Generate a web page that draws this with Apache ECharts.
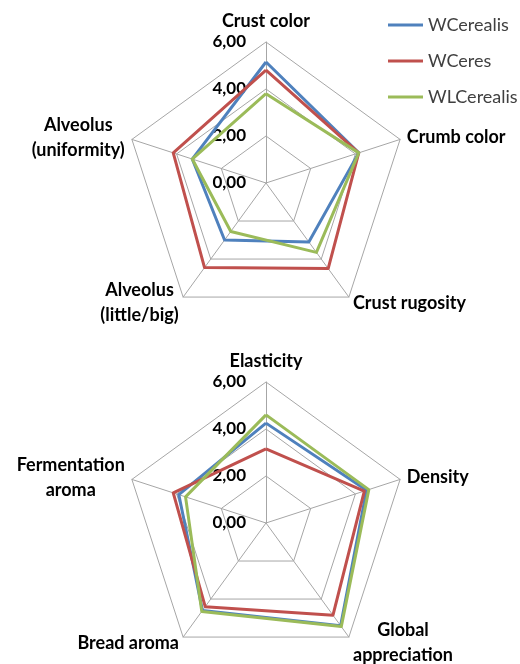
<!DOCTYPE html>
<html>
<head>
<meta charset="utf-8">
<script src="https://cdn.jsdelivr.net/npm/echarts@6/dist/echarts.min.js"></script>
<style>
  html, body { margin: 0; padding: 0; background: #fff; }
  #chart { width: 520px; height: 664px; }
</style>
</head>
<body>
<div id="chart"></div>
<script>
// categories listed clockwise starting from the top vertex
var topCategories = ['Crust color', 'Crumb color', 'Crust rugosity', 'Alveolus\n(little/big)', 'Alveolus\n(uniformity)'];
var bottomCategories = ['Elasticity', 'Density', 'Global\nappreciation', 'Bread aroma', 'Fermentation\naroma'];

var seriesNames = ['WCerealis', 'WCeres', 'WLCerealis'];

var wCerealisTop = [5.15, 4.15, 3.1, 3.0, 3.3];
var wCeresTop = [4.8, 4.15, 4.5, 4.45, 4.15];
var wlCerealisTop = [3.8, 4.15, 3.65, 2.55, 3.3];

var wCerealisBottom = [4.25, 4.5, 5.4, 4.6, 3.9];
var wCeresBottom = [3.15, 4.4, 4.85, 4.4, 4.15];
var wlCerealisBottom = [4.6, 4.6, 5.45, 4.65, 3.6];

var axisMax = 6;
var axisInterval = 2;

var colors = ['#4F81BD', '#C0504D', '#9BBB59'];
var FONT = 'Lato';
var NAME_SIZE = 18;

// echarts lays indicators out counter-clockwise, so reverse the tail
function ccw(arr) {
  return [arr[0]].concat(arr.slice(1).reverse());
}

// multi-line names get a fixed-width rich box so their lines are centred
var ctx = document.createElement('canvas').getContext('2d');
ctx.font = 'bold ' + NAME_SIZE + 'px ' + FONT;
var rich = {};
var richKey = {};
topCategories.concat(bottomCategories).forEach(function (c, i) {
  if (c.indexOf('\n') < 0) return;
  var w = Math.max.apply(null, c.split('\n').map(function (s) { return ctx.measureText(s).width; }));
  rich['n' + i] = { width: Math.ceil(w), align: 'center', lineHeight: 25 };
  richKey[c] = 'n' + i;
});

function indicators(cats) {
  return ccw(cats).map(function (c, i) {
    var ind = { name: c, min: 0, max: axisMax };
    if (i === 0) {
      ind.axisLabel = {
        show: true,
        margin: 20,
        fontFamily: FONT,
        fontWeight: 'bold',
        fontSize: 17,
        color: '#000',
        formatter: function (v) { return v.toFixed(2).replace('.', ','); }
      };
    }
    return ind;
  });
}

function radarCfg(cats, cy) {
  return {
    center: [266, cy],
    radius: 141,
    shape: 'polygon',
    startAngle: 90,
    splitNumber: axisMax / axisInterval,
    indicator: indicators(cats),
    axisName: {
      color: '#000',
      fontFamily: FONT,
      fontWeight: 'bold',
      fontSize: NAME_SIZE,
      lineHeight: 25,
      rich: rich,
      formatter: function (name) {
        var k = richKey[name];
        if (!k) return name;
        return name.split('\n').map(function (s) { return '{' + k + '|' + s + '}'; }).join('\n');
      }
    },
    nameGap: 7,
    axisLabel: { show: false },
    axisLine: { lineStyle: { color: '#a6a6a6', width: 1 } },
    splitLine: { lineStyle: { color: '#a6a6a6', width: 1 } },
    splitArea: { show: false }
  };
}

var chart = echarts.init(document.getElementById('chart'), null, { renderer: 'canvas' });

var topSets = [wCerealisTop, wCeresTop, wlCerealisTop];
var bottomSets = [wCerealisBottom, wCeresBottom, wlCerealisBottom];

var series = [];
[topSets, bottomSets].forEach(function (sets, r) {
  sets.forEach(function (vals, i) {
    series.push({
      type: 'radar',
      name: seriesNames[i],
      radarIndex: r,
      symbol: 'none',
      color: colors[i],
      lineStyle: { color: colors[i], width: 3 },
      itemStyle: { color: colors[i] },
      data: [{ name: seriesNames[i], value: ccw(vals) }]
    });
  });
});

chart.setOption({
  animation: false,
  legend: {
    orient: 'vertical',
    left: 388,
    top: 16,
    padding: 0,
    icon: 'rect',
    itemWidth: 35,
    itemHeight: 3,
    itemGap: 18,
    data: seriesNames,
    textStyle: { fontFamily: FONT, fontSize: 18, color: '#404040' }
  },
  radar: [radarCfg(topCategories, 183), radarCfg(bottomCategories, 523)],
  series: series
});
</script>
</body>
</html>
